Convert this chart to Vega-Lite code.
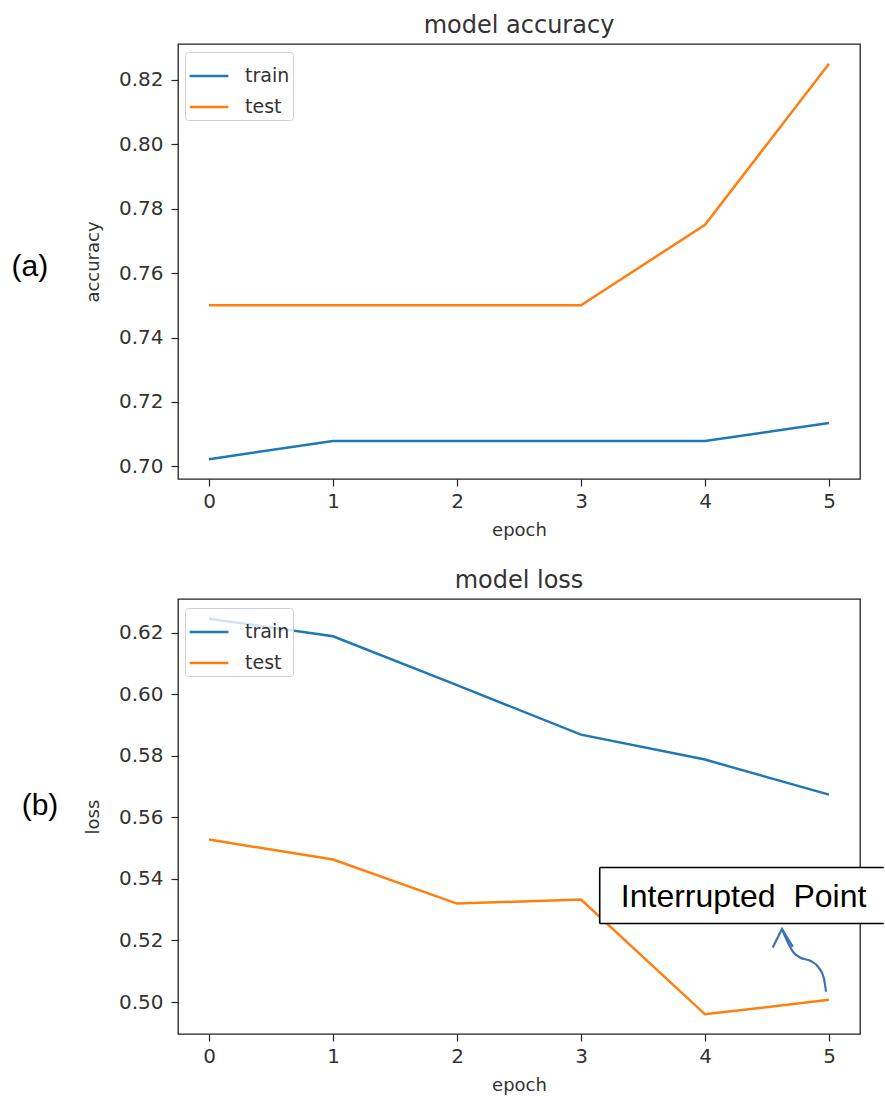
{
  "$schema": "https://vega.github.io/schema/vega-lite/v6.json",
  "background": "white",
  "padding": {"left": 10, "top": 13, "right": 0, "bottom": 0},
  "config": {
    "font": "DejaVu Sans",
    "view": {"stroke": "#222222", "strokeWidth": 1.3},
    "axis": {
      "domain": false, "grid": false,
      "tickColor": "#222222", "tickSize": 7, "tickWidth": 1.2,
      "labelFont": "DejaVu Sans", "labelFontSize": 20, "labelColor": "#333333", "labelPadding": 8,
      "titleFont": "DejaVu Sans", "titleFontSize": 18, "titleFontWeight": "normal", "titleColor": "#333333",
      "labelFlush": false
    },
    "axisX": {"titlePadding": 10, "labelPadding": 5},
    "axisY": {"titlePadding": 16},
    "title": {"font": "DejaVu Sans", "fontSize": 24, "fontWeight": "normal", "color": "#333333", "offset": 6},
    "legend": {
      "labelFont": "DejaVu Sans", "labelFontSize": 19, "labelColor": "#333333",
      "symbolType": "stroke", "symbolSize": 1500, "symbolStrokeWidth": 2.5,
      "fillColor": "rgba(255,255,255,0.8)", "strokeColor": "#d0d0d0", "cornerRadius": 3,
      "padding": 3, "rowPadding": -3, "labelOffset": 15
    }
  },
  "datasets": {
    "acc": [
      {"epoch": 0, "value": 0.70225, "series": "train"},
      {"epoch": 1, "value": 0.70787, "series": "train"},
      {"epoch": 2, "value": 0.70787, "series": "train"},
      {"epoch": 3, "value": 0.70787, "series": "train"},
      {"epoch": 4, "value": 0.70787, "series": "train"},
      {"epoch": 5, "value": 0.71348, "series": "train"},
      {"epoch": 0, "value": 0.75, "series": "test"},
      {"epoch": 1, "value": 0.75, "series": "test"},
      {"epoch": 2, "value": 0.75, "series": "test"},
      {"epoch": 3, "value": 0.75, "series": "test"},
      {"epoch": 4, "value": 0.775, "series": "test"},
      {"epoch": 5, "value": 0.825, "series": "test"}
    ],
    "loss": [
      {"epoch": 0, "value": 0.6246, "series": "train"},
      {"epoch": 1, "value": 0.6189, "series": "train"},
      {"epoch": 2, "value": 0.6030, "series": "train"},
      {"epoch": 3, "value": 0.5869, "series": "train"},
      {"epoch": 4, "value": 0.5788, "series": "train"},
      {"epoch": 5, "value": 0.5674, "series": "train"},
      {"epoch": 0, "value": 0.5528, "series": "test"},
      {"epoch": 1, "value": 0.5463, "series": "test"},
      {"epoch": 2, "value": 0.5320, "series": "test"},
      {"epoch": 3, "value": 0.5333, "series": "test"},
      {"epoch": 4, "value": 0.4960, "series": "test"},
      {"epoch": 5, "value": 0.5007, "series": "test"}
    ],
    "la": [{"epoch": -1.444, "value": 0.7618, "label": "(a)"}],
    "lb": [{"epoch": -1.363, "value": 0.5637, "label": "(b)"}],
    "box": [{"epoch": 3.151, "epoch2": 5.441, "value": 0.5437, "value2": 0.5255}],
    "boxb": [{"epoch": 3.151, "epoch2": 5.441, "value": 0.5255}],
    "boxtext": [{"epoch": 4.311, "value": 0.5342, "label": "Interrupted\u00a0 Point"}],
    "arrow": [
      {"epoch": 4.621, "value": 0.5237},
      {"epoch": 4.675, "value": 0.5188},
      {"epoch": 4.716, "value": 0.5160},
      {"epoch": 4.769, "value": 0.5144},
      {"epoch": 4.849, "value": 0.5134},
      {"epoch": 4.917, "value": 0.5112},
      {"epoch": 4.958, "value": 0.5079},
      {"epoch": 4.976, "value": 0.5034}
    ],
    "head": [
      {"epoch": 4.546, "value": 0.5177},
      {"epoch": 4.621, "value": 0.5237},
      {"epoch": 4.708, "value": 0.5179}
    ]
  },
  "bounds": "flush",
  "spacing": 120,
  "resolve": {"legend": {"color": "independent"}},
  "vconcat": [
    {
      "width": 682,
      "height": 435,
      "title": "model accuracy",
      "encoding": {
        "x": {"field": "epoch", "type": "quantitative",
              "scale": {"domain": [-0.25, 5.25], "nice": false, "zero": false},
              "axis": {"values": [0, 1, 2, 3, 4, 5], "format": "d", "title": "epoch"}},
        "y": {"field": "value", "type": "quantitative",
              "scale": {"domain": [0.6961, 0.8311], "nice": false, "zero": false},
              "axis": {"values": [0.70, 0.72, 0.74, 0.76, 0.78, 0.80, 0.82], "format": ".2f", "title": "accuracy"}}
      },
      "layer": [
        {
          "data": {"name": "acc"},
          "mark": {"type": "line", "strokeWidth": 2.5},
          "encoding": {
            "color": {"field": "series", "type": "nominal",
                      "scale": {"domain": ["train", "test"], "range": ["#1f77b4", "#ff7f0e"]},
                      "legend": {"title": null, "orient": "none", "legendX": 7, "legendY": 8}}
          }
        },
        {
          "data": {"name": "la"},
          "mark": {"type": "text", "font": "Liberation Sans", "fontSize": 30, "align": "center", "baseline": "middle", "color": "#000000"},
          "encoding": {"text": {"field": "label"}}
        }
      ]
    },
    {
      "width": 682,
      "height": 435,
      "title": "model loss",
      "encoding": {
        "x": {"field": "epoch", "type": "quantitative",
              "scale": {"domain": [-0.25, 5.25], "nice": false, "zero": false},
              "axis": {"values": [0, 1, 2, 3, 4, 5], "format": "d", "title": "epoch"}},
        "y": {"field": "value", "type": "quantitative",
              "scale": {"domain": [0.4896, 0.6310], "nice": false, "zero": false},
              "axis": {"values": [0.50, 0.52, 0.54, 0.56, 0.58, 0.60, 0.62], "format": ".2f", "title": "loss"}}
      },
      "layer": [
        {
          "data": {"name": "loss"},
          "mark": {"type": "line", "strokeWidth": 2.5},
          "encoding": {
            "color": {"field": "series", "type": "nominal",
                      "scale": {"domain": ["train", "test"], "range": ["#1f77b4", "#ff7f0e"]},
                      "legend": {"title": null, "orient": "none", "legendX": 7, "legendY": 9}}
          }
        },
        {
          "data": {"name": "lb"},
          "mark": {"type": "text", "font": "Liberation Sans", "fontSize": 30, "align": "center", "baseline": "middle", "color": "#000000"},
          "encoding": {"text": {"field": "label"}}
        },
        {
          "data": {"name": "box"},
          "mark": {"type": "rect", "fill": "#ffffff", "strokeWidth": 0},
          "encoding": {"x2": {"field": "epoch2"}, "y2": {"field": "value2"}}
        },
        {
          "data": {"name": "box"},
          "mark": {"type": "rule", "color": "#000000", "strokeWidth": 1.6},
          "encoding": {"x2": {"field": "epoch2"}}
        },
        {
          "data": {"name": "boxb"},
          "mark": {"type": "rule", "color": "#000000", "strokeWidth": 1.6},
          "encoding": {"x2": {"field": "epoch2"}}
        },
        {
          "data": {"name": "box"},
          "mark": {"type": "rule", "color": "#000000", "strokeWidth": 1.6},
          "encoding": {"y2": {"field": "value2"}}
        },
        {
          "data": {"name": "boxtext"},
          "mark": {"type": "text", "font": "Liberation Sans", "fontSize": 32, "align": "center", "baseline": "middle", "color": "#000000"},
          "encoding": {"text": {"field": "label"}}
        },
        {
          "data": {"name": "arrow"},
          "mark": {"type": "line", "color": "#3d70b5", "strokeWidth": 2.2, "interpolate": "monotone"},
          "encoding": {}
        },
        {
          "data": {"name": "head"},
          "mark": {"type": "line", "color": "#3d70b5", "strokeWidth": 2.2},
          "encoding": {}
        }
      ]
    }
  ]
}
